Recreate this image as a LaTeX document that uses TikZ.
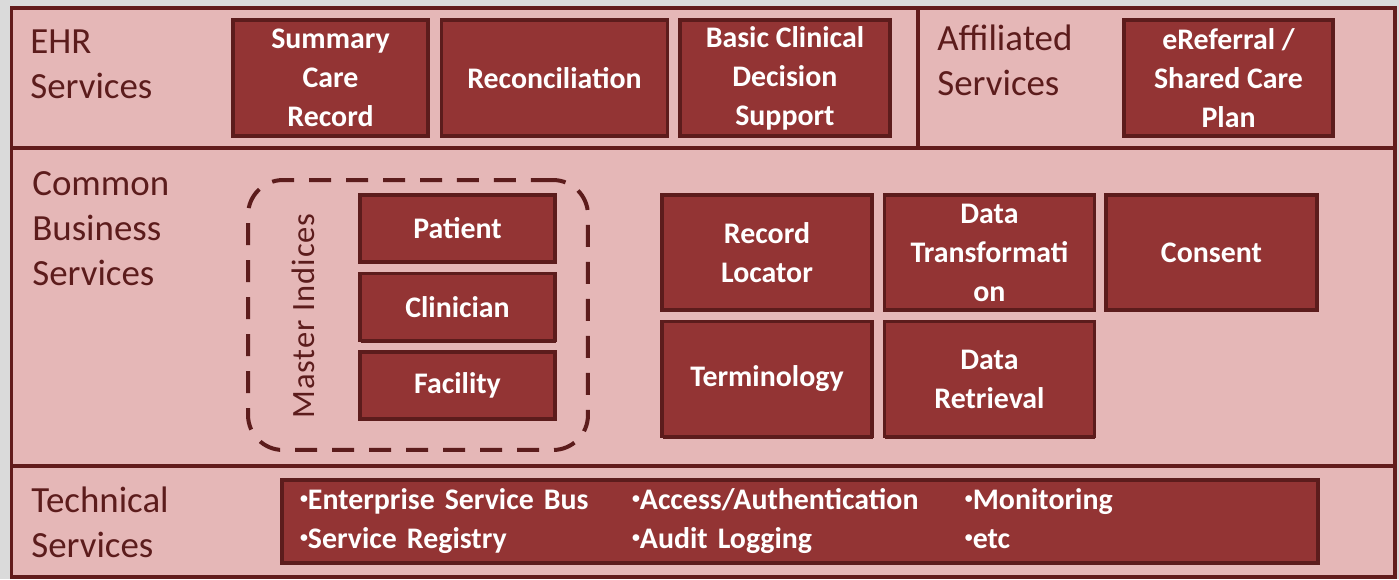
\documentclass[tikz,border=0pt]{standalone}
\usepackage{fontspec}
\setmainfont{Carlito}
\usetikzlibrary{positioning,shadows}
\definecolor{outerbg}{RGB}{218,218,218}
\definecolor{panelfill}{RGB}{229,183,183}
\definecolor{panelline}{RGB}{98,28,28}
\definecolor{blockfill}{RGB}{147,52,52}
\definecolor{blockline}{RGB}{92,28,28}
\definecolor{titletext}{RGB}{92,28,28}
\newcommand{\blockfont}{\bfseries\fontsize{17}{22.2}\selectfont}
\newcommand{\titlefont}{\fontsize{21}{25.6}\selectfont}
\newcommand{\tbul}{\raisebox{0.45ex}{\fontsize{9}{9}\selectfont•}}
\tikzset{
    panel/.style = {draw=panelline, fill=panelfill, line width=0.08cm},
    block/.style = {draw=blockline, fill=blockfill, line width=0.07cm,
        text=white, font=\blockfont, align=center, inner sep=0pt,
        drop shadow={shadow xshift=0.4pt, shadow yshift=-1.2pt, fill=blockline, opacity=1}},
    rowtitle/.style = {text=titletext, font=\titlefont, align=left,
        anchor=north west, inner sep=0pt},
    dashbox/.style = {draw=blockline, line width=0.08cm, rounded corners=0.7cm,
        dash pattern=on 0.44cm off 0.3cm},
    wide/.style = {minimum width=#1, minimum height=2.32cm},
    flat/.style = {minimum width=3.9cm, minimum height=1.34cm}
}

\begin{document}
\begin{tikzpicture}[x=0.02cm, y=-0.02cm]
    \fill[outerbg] (0,0) rectangle (1399,579);
    % the four panels
    \draw[panel] (11.5,7.5) rectangle (918,148);
    \draw[panel] (918,7.5) rectangle (1395,148);
    \draw[panel] (11.5,148) rectangle (1395,466);
    \draw[panel] (11.5,466) rectangle (1395,577);
    % row titles
    \node[rowtitle] (ehr) at (30,29) {EHR\\Services};
    \node[rowtitle] (affil) at (937,25) {Affiliated\\Services};
    \node[rowtitle] (common) at (32,171) {Common\\Business\\Services};
    \node[rowtitle] (technical) at (31,487) {Technical\\Services};
    % EHR services
    \node[block, wide=3.9cm] (summary) at (330.5,78) {Summary\\Care\\Record};
    \node[block, wide=4.52cm, right=0.2cm of summary] (recon) {Reconciliation};
    \node[block, wide=4.2cm, right=0.18cm of recon] (cds) {Basic Clinical\\Decision\\Support};
    % affiliated services
    \node[block, wide=4.18cm] (ereferral) at (1228.5,78) {eReferral /\\Shared Care\\Plan};
    % master indices
    \node[dashbox, minimum width=6.8cm, minimum height=5.4cm] (master) at (418,315) {};
    \node[block, flat] (patient) at (457.5,228.5) {Patient};
    \node[block, flat, below=0.16cm of patient] (clinician) {Clinician};
    \node[block, flat, below=0.16cm of clinician] (facility) {Facility};
    \node[rotate=90, text=titletext, font=\fontsize{18.5}{20}\selectfont\addfontfeature{LetterSpace=3}] (mastername) at (303,316) {Master Indices};
    % common business services
    \node[block, minimum width=4.2cm, minimum height=2.3cm] (locator) at (767,252.5) {Record\\Locator};
    \node[block, minimum width=4.2cm, minimum height=2.3cm, right=0.18cm of locator] (transform) {Data\\Transformati\\on};
    \node[block, minimum width=4.22cm, minimum height=2.3cm, right=0.16cm of transform] (consent) {Consent};
    \node[block, minimum width=4.2cm, minimum height=2.3cm, below=0.16cm of locator] (terminology) {Terminology};
    \node[block, minimum width=4.2cm, minimum height=2.3cm, below=0.16cm of transform] (retrieval) {Data\\Retrieval};
    % technical services
    \node[block, text width=20cm, inner xsep=0.36cm, minimum height=1.66cm, align=left] (techbox) at (800,521.5)
        {\makebox[6.64cm][l]{\tbul Enterprise Service Bus}\makebox[6.66cm][l]{\tbul Access/Authentication}\tbul Monitoring\\
         \makebox[6.64cm][l]{\tbul Service Registry}\makebox[6.66cm][l]{\tbul Audit Logging}\tbul etc};
\end{tikzpicture}
\end{document}
